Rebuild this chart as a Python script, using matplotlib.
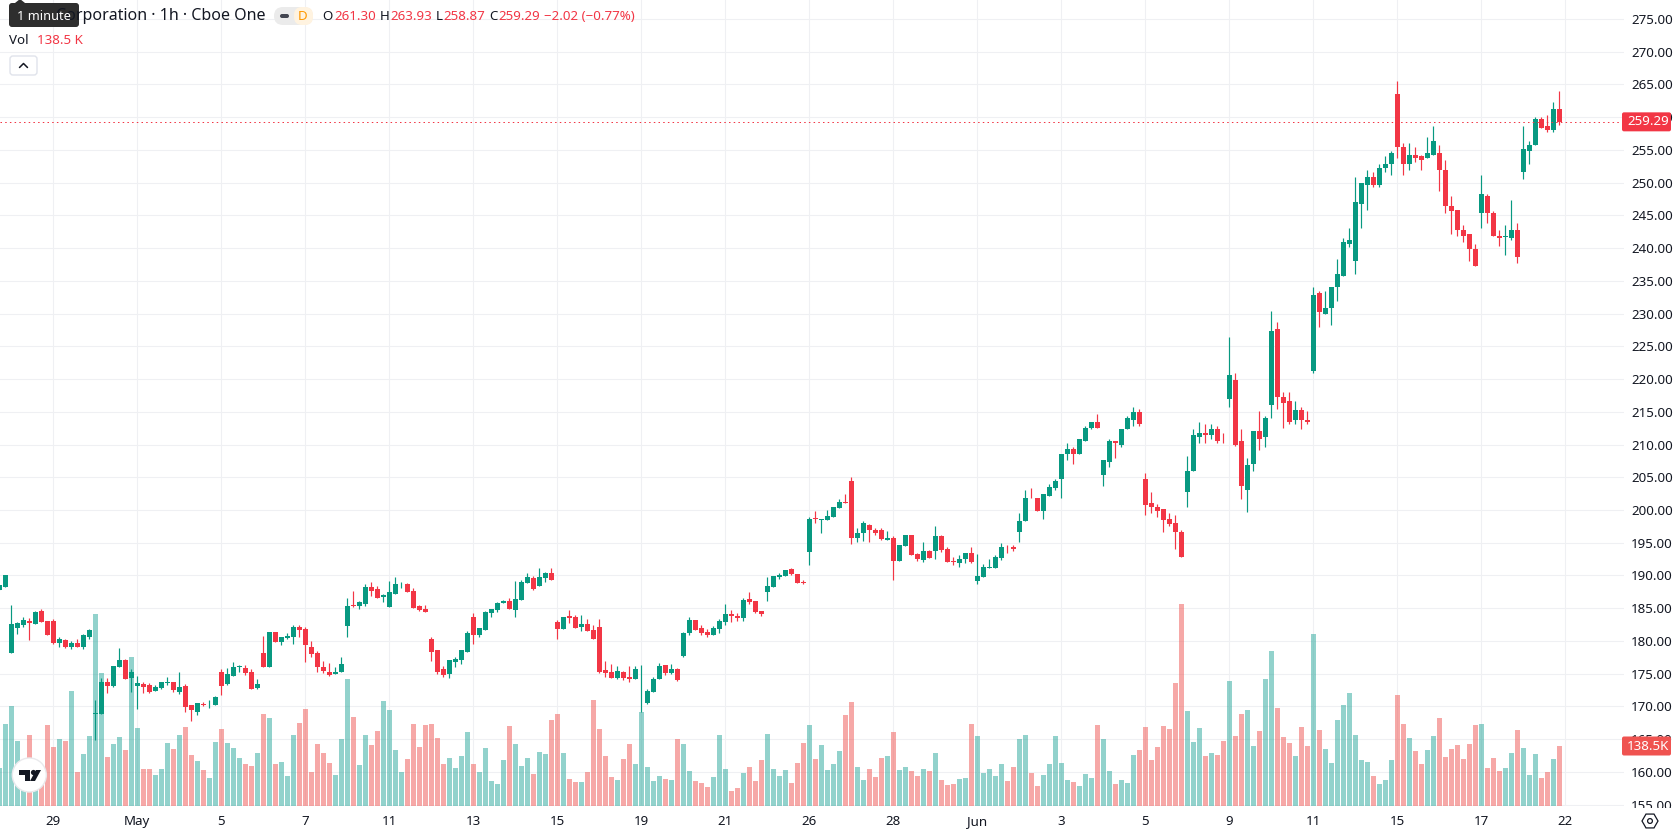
import numpy as np
import matplotlib
matplotlib.use("Agg")
import matplotlib.pyplot as plt
from matplotlib.patches import FancyBboxPatch, Circle, Polygon
from matplotlib.transforms import Bbox

plt.rcParams['font.family'] = ['Noto Sans', 'DejaVu Sans']

# Hourly session data, oldest first
opens = [187.8,188.2,178.1,182.0,182.4,183.0,182.6,184.6,183.0,183.0,179.7,180.1,179.1,179.7,179.1,180.6,168.9,168.8,173.7,173.1,
 176.0,177.1,174.3,173.1,173.4,173.3,172.4,172.8,173.6,173.7,172.2,173.1,170.2,169.1,170.4,170.3,170.2,175.3,173.4,174.6,
 176.0,175.9,175.3,172.8,178.2,176.0,181.4,179.8,180.5,180.6,182.1,181.8,179.1,178.2,176.0,175.3,
 175.0,175.3,182.3,185.5,185.3,185.6,188.2,187.9,186.7,185.2,187.2,188.8,188.7,187.6,185.3,184.9,180.3,178.6,175.7,175.0,
 176.8,177.1,178.3,183.7,180.9,181.7,184.3,184.7,185.8,186.1,184.7,186.2,188.8,189.6,188.4,189.6,190.4,182.9,181.8,183.8,
 183.7,182.1,182.6,181.7,182.1,175.6,175.3,174.3,175.3,174.5,174.2,170.6,170.5,172.2,174.2,
 176.3,175.1,175.7,177.7,181.2,183.2,182.0,181.3,180.9,181.8,182.9,184.1,183.8,183.5,186.4,186.1,184.6,187.5,188.2,189.7,
 189.9,191.0,190.2,189.0,193.6,198.8,198.4,198.4,198.9,200.3,201.2,204.4,195.7,196.5,197.7,196.9,196.9,195.4,195.7,192.2,
 194.5,196.2,193.3,192.3,193.7,193.7,196.0,194.0,192.2,191.9,192.5,193.4,189.1,189.7,191.2,
 191.2,192.6,194.4,194.4,196.7,198.3,201.9,201.9,199.8,202.2,203.3,204.7,208.5,209.3,208.6,210.6,212.6,213.5,205.3,207.4,
 210.5,210.0,212.3,213.8,214.9,204.8,201.0,200.4,200.1,198.6,198.0,196.7,
 202.8,206.0,211.2,211.8,211.4,212.4,210.9,216.9,219.9,210.5,203.0,207.1,212.1,211.2,216.1,227.6,217.3,216.6,213.7,215.2,213.7,
 221.2,233.1,230.0,230.8,234.1,235.8,240.6,238.0,246.7,249.6,250.8,249.7,252.3,252.8,263.6,255.5,252.8,254.3,254.0,253.7,
 254.2,254.5,251.9,246.5,245.9,242.8,242.1,239.9,245.4,248.0,245.4,241.9,241.7,241.5,242.8,251.7,254.9,255.8,259.7,258.6,
 258.0,261.30]
highs = [188.6,190.1,185.5,182.9,183.6,183.5,184.6,184.9,183.0,183.3,180.6,180.3,180.0,180.3,181.1,181.8,171.0,174.3,174.3,176.2,
 178.9,177.2,175.7,174.6,173.7,173.6,173.3,173.7,174.5,173.7,175.3,173.4,170.2,170.5,170.7,171.0,171.6,175.7,175.9,176.8,
 176.3,176.3,175.7,174.2,180.8,181.4,181.4,180.6,181.2,182.4,182.4,182.1,180.0,178.5,176.9,176.6,
 176.0,177.5,186.6,187.6,186.1,188.7,189.0,188.4,187.2,189.1,189.8,189.0,188.8,188.1,185.5,185.5,180.6,178.6,176.2,177.1,
 177.5,178.6,181.5,184.3,182.0,184.6,184.9,185.9,186.2,186.6,189.1,189.3,190.4,189.9,191.1,190.5,191.1,183.2,183.7,184.7,
 184.0,184.0,183.3,182.4,183.3,176.9,176.5,176.2,175.4,176.2,176.2,176.3,172.7,174.5,176.6,
 176.3,176.5,175.9,181.4,183.6,183.2,182.4,181.8,182.3,183.3,185.6,184.7,184.2,186.5,187.5,186.1,184.6,189.7,189.9,190.4,
 190.8,191.1,190.2,189.3,198.9,199.8,198.6,200.0,200.4,201.7,202.4,205.0,197.2,198.3,197.8,197.2,197.2,196.8,196.0,194.6,
 196.2,196.2,193.4,195.1,193.9,197.5,196.2,194.3,192.8,193.1,193.4,194.3,193.3,191.7,192.5,
 193.1,194.9,194.6,194.6,199.6,203.1,203.3,201.9,202.4,203.9,204.8,208.6,210.3,209.7,210.9,212.9,213.5,214.6,207.7,210.8,
 210.5,212.3,214.3,215.7,215.4,205.6,202.8,200.9,200.1,199.6,199.2,196.9,
 208.3,212.4,213.5,213.1,213.2,212.9,211.8,226.4,220.9,212.4,208.0,212.1,215.1,214.3,230.4,228.7,218.1,218.0,216.6,215.7,215.1,
 234.1,233.5,233.4,234.1,238.4,241.5,243.1,250.8,250.0,251.9,251.7,252.9,254.0,254.9,265.6,256.0,256.1,255.5,254.3,256.9,
 258.6,255.8,253.4,247.9,245.9,243.6,242.1,240.6,251.1,248.2,245.7,242.8,243.6,247.3,243.9,258.6,256.4,260.1,260.1,260.3,
 262.3,263.93]
lows = [187.8,188.2,178.1,181.0,182.1,180.1,182.6,182.9,180.9,179.5,179.1,178.9,178.8,179.1,178.8,180.3,164.9,168.8,172.0,173.0,
 176.0,174.2,172.2,169.6,172.0,172.0,172.4,172.7,173.3,172.2,171.9,169.1,167.8,168.7,170.1,169.8,170.2,171.7,173.3,174.6,
 175.3,174.8,172.7,172.7,176.0,176.0,179.8,179.4,180.3,179.5,180.6,176.8,177.5,175.3,175.1,174.6,
 175.0,175.3,180.6,185.2,184.9,185.3,186.9,186.6,185.9,185.2,187.2,188.1,187.5,185.0,184.6,184.4,176.9,175.0,174.5,174.3,
 176.0,176.5,178.3,179.5,180.6,181.7,183.7,184.4,185.8,184.9,183.7,186.2,188.8,187.8,188.4,189.0,189.3,180.3,181.8,182.7,
 182.0,181.5,181.5,180.3,175.1,174.5,174.3,174.2,174.0,173.7,174.2,169.1,170.4,172.2,174.2,
 174.8,175.0,173.9,177.6,180.9,181.6,180.9,180.6,180.9,181.2,182.4,182.9,183.0,183.0,185.6,184.2,183.8,186.1,188.2,189.4,
 189.9,190.0,188.8,188.7,191.6,198.0,196.5,198.4,198.9,200.3,201.0,194.8,195.1,195.2,195.1,196.2,195.4,195.4,189.3,192.2,
 194.5,193.1,192.2,192.0,192.6,192.5,193.6,192.0,191.6,191.3,191.9,191.9,188.7,189.7,191.1,
 191.2,192.3,193.4,193.7,195.1,198.3,201.8,199.8,198.7,202.1,203.0,201.9,207.7,207.1,208.6,210.6,212.3,212.6,203.6,206.5,
 208.0,209.6,212.3,212.8,212.9,199.2,199.6,198.9,196.6,197.5,194.0,192.8,
 200.4,206.0,210.2,210.2,210.8,210.2,210.2,215.8,209.8,201.7,199.7,206.0,209.1,209.7,214.1,215.4,212.6,213.1,213.1,212.4,213.2,
 220.9,228.0,230.0,228.3,232.0,235.8,240.1,236.1,243.1,245.9,249.4,249.4,251.7,251.2,253.8,251.1,251.9,253.1,252.0,253.7,
 254.2,248.8,245.3,242.2,241.8,241.0,238.0,237.2,243.1,243.9,241.8,240.4,239.0,241.3,237.7,250.6,252.9,255.7,258.4,257.8,
 257.7,258.87]
closes = [188.5,190.1,182.6,182.7,183.2,182.7,184.4,182.9,180.9,179.7,180.3,179.1,179.7,179.1,180.9,181.7,169.0,173.7,173.1,176.2,
 177.1,174.2,175.3,173.6,173.0,172.2,173.0,173.7,173.7,172.5,173.0,169.9,169.4,170.5,170.2,170.4,171.4,173.1,175.0,176.0,
 176.1,175.1,172.7,173.4,176.0,181.4,179.8,180.6,180.7,182.1,181.7,179.4,178.0,176.0,175.4,174.8,
 175.3,176.5,185.3,185.3,185.9,188.2,187.6,186.6,187.0,187.5,188.7,188.9,187.5,185.0,184.7,184.4,178.3,175.3,174.8,177.1,
 177.2,178.6,181.2,180.9,182.0,184.4,184.9,185.8,186.1,184.9,186.4,189.0,189.8,187.9,189.8,190.4,189.3,181.8,183.7,183.5,
 182.0,182.6,181.5,180.3,175.3,175.1,174.3,175.4,174.3,174.2,175.7,170.7,172.4,174.2,176.2,
 175.1,175.7,174.1,181.2,183.2,181.6,181.2,180.9,182.0,183.0,184.1,183.8,183.5,186.2,185.9,184.4,184.1,188.4,189.9,190.0,
 190.8,190.2,188.8,188.8,198.7,198.6,198.6,199.1,200.4,201.2,201.1,195.7,196.5,198.0,196.9,196.5,195.5,195.8,192.2,194.6,
 196.2,193.1,192.5,193.7,192.6,196.0,193.9,192.0,192.0,192.5,193.4,192.0,189.9,191.3,191.3,
 192.8,194.4,194.3,194.0,198.3,201.9,201.8,199.8,202.4,203.5,204.4,208.6,209.3,208.6,210.8,212.6,213.5,212.6,207.7,210.6,
 210.3,212.3,214.0,214.9,213.1,200.7,200.4,199.9,198.4,197.8,196.7,192.8,
 206.0,211.4,211.8,211.4,212.4,210.6,210.8,220.6,210.0,203.6,206.9,212.1,210.9,214.0,227.4,217.3,216.4,213.5,215.2,213.7,213.5,
 232.9,230.2,230.9,234.1,236.1,240.9,241.2,247.0,250.0,250.8,249.7,252.3,252.9,254.6,255.5,252.9,254.3,253.7,253.5,254.5,
 256.3,251.9,246.4,245.7,242.7,241.9,239.8,237.2,248.2,245.3,241.8,241.6,241.8,242.8,238.6,255.2,255.7,259.8,258.4,258.0,
 261.3,259.29]
# Traded volume per bar, in thousands of shares
volumes = [87.7,189.2,230.8,150,85,163.8,85,78,186.9,136.1,154.6,150,265.3,78.4,120,161.5,443,306.8,113,143,
 159.2,129.2,343.7,180,85.4,85.4,71.5,85.4,145.3,131.5,163.8,182.3,117.7,103.8,83,64.6,147.6,177.6,145.3,133.8,
 110.7,96.9,92.3,122.3,212.2,203,96.9,101.5,69.2,163.8,191.5,223.8,78.4,143,122.3,99.2,
 71.5,154.6,293,205.3,94.6,163.8,140.7,173,242.2,221.5,129.2,78.4,108.4,189.2,136.1,186.9,189.2,156.9,96.9,110.7,
 87.7,115.4,170.7,96.9,78.4,133.8,57.7,50.8,106.1,184.6,143,92.3,110.7,73.8,124.6,120,198.4,212.2,122.3,62.3,
 55.4,55.4,78.4,244.5,177.6,115.4,66.9,60,108.4,143,96.9,216.9,90,57.7,69.2,
 62.3,60,154.6,143,80.7,57.7,53.1,43.8,66.9,163.8,85.4,34.6,41.5,76.1,90,57.7,106.1,166.1,85.4,69.2,
 83,53.1,99.2,145.3,186.9,108.4,140.7,83,96.9,126.9,209.9,239.9,90,60,85.4,66.9,110.7,115.4,170.7,83,
 90,80.7,69.2,85.4,80.7,122.3,60,48.4,50.8,62.3,64.6,189.2,161.5,76.1,85.4,
 69.2,96.9,57.7,90,154.6,163.8,76.1,46.1,71.5,96.9,161.5,99.2,60,55.4,46.1,73.8,64.6,186.9,154.6,80.7,
 50.8,60,53.1,117.7,129.2,182.3,106.1,136.1,184.6,177.6,283.8,466,
 219.2,147.6,180,115.4,122.3,117.7,150,288.4,161.5,212.2,221.5,138.4,173,293,357.6,226.1,159.2,145.3,115.4,182.3,138.4,
 396.8,175.3,131.5,99.2,198.4,233,260.7,163.8,106.1,101.5,69.2,50.8,60,106.1,256.1,189.2,156.9,126.9,96.9,129.2,
 161.5,203,113,131.5,140.7,108.4,143,186.9,189.2,87.7,110.7,80.7,87.7,122.3,175.3,133.8,71.5,120,64.6,78.4,
 108.4,138.5]

time_labels = ['29','May','5','7','11','13','15','19','21','26','28','Jun','3','5','9','11','15','17','22']
price_levels = [155 + 5 * i for i in range(25)]

UP, DOWN = '#089981', '#F23645'
VOL_UP, VOL_DOWN = '#26a69a', '#ef5350'
GRID = '#eff0f3'
TEXT = '#131722'
W, H = 1678, 835
PANE_R, PANE_B = 1624, 806
PRICE_LO, PRICE_HI = 154.79, 277.9
VOL_HI = PANE_B * 138.5 / 60

fig = plt.figure(figsize=(W / 100, H / 100), dpi=100, facecolor='white')
vol_ax = fig.add_axes([0, (H - PANE_B) / H, PANE_R / W, PANE_B / H])
ax = fig.add_axes([0, (H - PANE_B) / H, PANE_R / W, PANE_B / H], zorder=2)
ax.patch.set_visible(False)

o, h, l, c, v = map(np.array, (opens, highs, lows, closes, volumes))
idx = np.arange(len(o))
up = c >= o

ax.set_xlim(0.117, 270.78)
ax.set_ylim(PRICE_LO, PRICE_HI)
vol_ax.set_xlim(0.117, 270.78)
vol_ax.set_ylim(0, VOL_HI)

# Time and price scales
tick_idx = [9 + 14 * i for i in range(len(time_labels))]
ax.set_xticks(tick_idx)
ax.set_xticklabels(time_labels)
ax.set_yticks(price_levels)
ax.set_yticklabels([f'{p:.2f}' for p in price_levels])
ax.yaxis.tick_right()
ax.tick_params(axis='y', length=0, pad=5, labelsize=9.6, labelcolor=TEXT)
ax.tick_params(axis='x', length=0, pad=6.5, labelsize=9.6, labelcolor=TEXT)
for t in ax.get_xticklabels():
    if t.get_text() in ('May', 'Jun'):
        t.set_fontweight('bold')
for a in (ax, vol_ax):
    for s in a.spines.values():
        s.set_visible(False)
vol_ax.set_xticks([])
vol_ax.set_yticks([])

# Gridlines stay behind the volume histogram
for lvl in price_levels:
    vol_ax.axhline((lvl - PRICE_LO) / (PRICE_HI - PRICE_LO) * VOL_HI, color=GRID, lw=0.8, zorder=0)
for tx in tick_idx:
    vol_ax.axvline(tx, color=GRID, lw=0.8, zorder=0)
vol_ax.bar(idx, v, width=0.82, color=np.where(up, VOL_UP, VOL_DOWN), alpha=0.5, linewidth=0, zorder=2)

# Candles
colors = np.where(up, UP, DOWN)
ax.vlines(idx, l, h, colors=colors, lw=0.85, zorder=3)
ax.bar(idx, np.abs(c - o), bottom=np.minimum(o, c), width=0.82, color=colors, linewidth=0, zorder=4)

# Last price line
ax.axhline(c[-1], color=DOWN, lw=0.72, ls=(0, (1.5, 3.2)), zorder=5)

# Lowest price label runs into the time scale
for t in ax.get_yticklabels():
    if t.get_text() == '155.00':
        t.set_clip_box(Bbox([[PANE_R, H - 808], [W, H]]))
        t.set_clip_on(True)

# Overlay in pixel units for the interface furniture
ui = fig.add_axes([0, 0, 1, 1], zorder=20)
ui.set_xlim(0, W)
ui.set_ylim(H, 0)
ui.axis('off')
ui.patch.set_visible(False)

fig.canvas.draw()
price_y = H - ax.transData.transform((0, c[-1]))[1]
vol_y = H - vol_ax.transData.transform((0, v[-1]))[1]

ui.add_patch(FancyBboxPatch((1622, price_y - 9.5), 49, 19, boxstyle='round,pad=0,rounding_size=2', fc=DOWN, ec='none'))
ui.text(1648, price_y, f'{c[-1]:.2f}', color='white', fontsize=9.6, ha='center', va='center')
ui.add_patch(FancyBboxPatch((1622, vol_y - 9.5), 49, 19, boxstyle='round,pad=0,rounding_size=2', fc='#ef5350', ec='none'))
ui.text(1648, vol_y, f'{v[-1]:.1f}K', color='white', fontsize=9.6, ha='center', va='center')

# Legend line
LEG_RED = '#F23645'
ui.text(266, 16, 'Corporation · 1h · Cboe One', color=TEXT, fontsize=11.5, ha='right', va='center')
ui.add_patch(FancyBboxPatch((274, 7), 39, 18, boxstyle='round,pad=0,rounding_size=9', fc='#ebebeb', ec='none'))
ui.add_patch(FancyBboxPatch((294, 7), 19, 18, boxstyle='round,pad=0,rounding_size=8', fc='#fff3e0', ec='none'))
ui.add_patch(FancyBboxPatch((280, 14), 9, 4, boxstyle='round,pad=0,rounding_size=2', fc='#434651', ec='none'))
ui.text(303, 16, 'D', color='#ff9800', fontsize=9.6, ha='center', va='center')
for x_lab, x_val, lab, val in ((322, 334, 'O', f'{o[-1]:.2f}'), (380, 390, 'H', f'{h[-1]:.2f}'),
                               (436, 443, 'L', f'{l[-1]:.2f}'), (489, 498, 'C', f'{c[-1]:.2f}')):
    ui.text(x_lab, 16, lab, color=TEXT, fontsize=9.6, ha='left', va='center')
    ui.text(x_val, 16, val, color=LEG_RED, fontsize=9.6, ha='left', va='center')
ui.text(544, 16, '−2.02 (−0.77%)', color=LEG_RED, fontsize=9.6, ha='left', va='center')
ui.text(9, 40, 'Vol', color=TEXT, fontsize=9.6, ha='left', va='center')
ui.text(37, 40, '138.5 K', color=LEG_RED, fontsize=9.6, ha='left', va='center')

# Collapse button
ui.add_patch(FancyBboxPatch((10, 56), 27, 19, boxstyle='round,pad=0,rounding_size=3', fc='white', ec='#e0e3eb', lw=1))
ui.plot([19.5, 23.5, 27.5], [67.5, 63.5, 67.5], color=TEXT, lw=1.1, solid_capstyle='round')

# Tooltip
ui.add_patch(FancyBboxPatch((9, 3), 70, 24, boxstyle='round,pad=0,rounding_size=3', fc='#2e2e2e', ec='none'))
ui.add_patch(Polygon([[15, 3], [20, -1], [25, 3]], fc='#2e2e2e', ec='none'))
ui.text(44, 16, '1 minute', color='white', fontsize=9.2, ha='center', va='center')

# Logo badge
ui.add_patch(Circle((29.3, 775), 17, fc='white', ec='#e9e9ec', lw=1))
ui.add_patch(Polygon([[19, 770], [30, 770], [30, 781], [25, 781], [25, 775], [19, 775]], fc='#131722', ec='none'))
ui.add_patch(Circle((33.5, 772.5), 2.6, fc='#131722', ec='none'))
ui.add_patch(Polygon([[36, 770], [41, 770], [35, 781], [30, 781]], fc='#131722', ec='none'))

# Settings icon
ang = np.deg2rad(np.arange(0, 360, 60))
ui.add_patch(Polygon(np.c_[1650 + 8 * np.cos(ang), 821 + 8 * np.sin(ang)], fc='none', ec=TEXT, lw=0.9))
ui.add_patch(Circle((1650, 821), 2.4, fc='none', ec=TEXT, lw=0.9))

fig.savefig('out.png', dpi=100, facecolor='white')
